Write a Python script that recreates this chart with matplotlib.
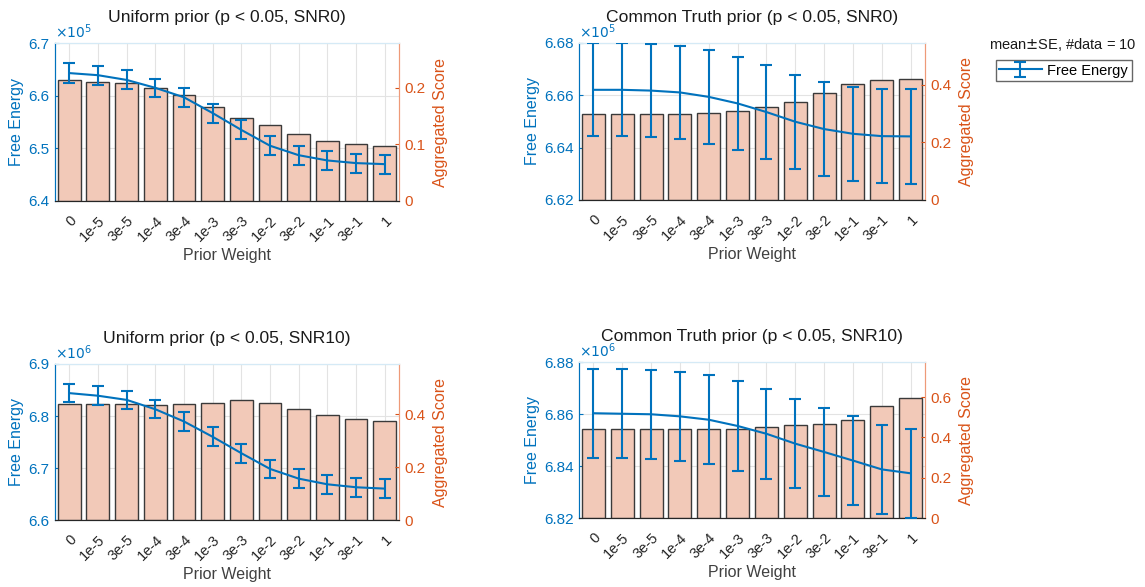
import numpy as np
import matplotlib
matplotlib.use('Agg')
from matplotlib import pyplot as plt

plt.rcParams['font.family'] = ['Liberation Sans', 'DejaVu Sans']

# x categories
weights = ['0', '1e-5', '3e-5', '1e-4', '3e-4', '1e-3', '3e-3', '1e-2', '3e-2', '1e-1', '3e-1', '1']

# Uniform prior, SNR0  (free energy in units of 1e5)
fe_uni0 = [6.643, 6.639, 6.630, 6.615, 6.597, 6.567, 6.535, 6.505, 6.487, 6.477, 6.472, 6.470]
se_uni0 = [0.019, 0.018, 0.018, 0.017, 0.018, 0.018, 0.018, 0.018, 0.018, 0.018, 0.018, 0.018]
sc_uni0 = [0.2135, 0.211, 0.208, 0.199, 0.187, 0.166, 0.1465, 0.1335, 0.118, 0.106, 0.100, 0.097]

# Common truth prior, SNR0 (units of 1e5)
fe_ct0 = [6.6621, 6.6621, 6.6618, 6.6611, 6.6594, 6.6569, 6.6536, 6.6499, 6.6471, 6.6453, 6.6444, 6.6443]
se_ct0 = [0.0178, 0.0178, 0.0178, 0.0178, 0.0179, 0.0179, 0.0179, 0.0180, 0.0180, 0.0180, 0.0180, 0.0180]
sc_ct0 = [0.2986, 0.2986, 0.2986, 0.2986, 0.302, 0.309, 0.3205, 0.340, 0.369, 0.4035, 0.417, 0.4196]

# Uniform prior, SNR10 (units of 1e6)
fe_uni10 = [6.844, 6.839, 6.831, 6.813, 6.7895, 6.760, 6.7285, 6.6983, 6.6796, 6.6687, 6.663, 6.6604]
se_uni10 = [0.0173, 0.018, 0.018, 0.0175, 0.018, 0.018, 0.018, 0.018, 0.018, 0.018, 0.018, 0.018]
sc_uni10 = [0.438, 0.438, 0.438, 0.4367, 0.438, 0.443, 0.4557, 0.4418, 0.419, 0.396, 0.382, 0.3734]

# Common truth prior, SNR10 (units of 1e6)
fe_ct10 = [6.8603, 6.8601, 6.8599, 6.8591, 6.8578, 6.8554, 6.8524, 6.8486, 6.8454, 6.8421, 6.8387, 6.8372]
se_ct10 = [0.0172, 0.0172, 0.0172, 0.0172, 0.0172, 0.0173, 0.0172, 0.0172, 0.0171, 0.0171, 0.0170, 0.0171]
sc_ct10 = [0.4413, 0.4413, 0.4413, 0.4413, 0.4413, 0.443, 0.4496, 0.463, 0.466, 0.4876, 0.5537, 0.5967]

blue = '#0072BD'
orange = '#D95319'
barface = '#F2C9B8'

panels = [
    # title, fe, se, score, exponent, left lims, left ticks, right lims, right ticks, position
    ('Uniform prior (p < 0.05, SNR0)', fe_uni0, se_uni0, sc_uni0, 5,
     (6.4, 6.7), [6.4, 6.5, 6.6, 6.7], (0, 0.279), [0, 0.1, 0.2], [0.048, 0.6576, 0.3005, 0.269]),
    ('Common Truth prior (p < 0.05, SNR0)', fe_ct0, se_ct0, sc_ct0, 5,
     (6.62, 6.68), [6.62, 6.64, 6.66, 6.68], (0, 0.544), [0, 0.2, 0.4], [0.5057, 0.6593, 0.3022, 0.2675]),
    ('Uniform prior (p < 0.05, SNR10)', fe_uni10, se_uni10, sc_uni10, 6,
     (6.6, 6.9), [6.6, 6.7, 6.8, 6.9], (0, 0.591), [0, 0.2, 0.4], [0.048, 0.1141, 0.3005, 0.2658]),
    ('Common Truth prior (p < 0.05, SNR10)', fe_ct10, se_ct10, sc_ct10, 6,
     (6.82, 6.88), [6.82, 6.84, 6.86, 6.88], (0, 0.7736), [0, 0.2, 0.4, 0.6], [0.5057, 0.1175, 0.3022, 0.2658]),
]

fig = plt.figure(figsize=(11.45, 5.87), dpi=100)
x = np.arange(len(weights))

for title, fe, se, sc, ex, ylim_l, yt_l, ylim_r, yt_r, pos in panels:
    ax = fig.add_axes(pos)
    ax_r = ax.twinx()
    ax_l = ax.twinx()  # line layer on top, same scale as ax

    # base axes: grid + left ticks
    ax.set_xlim(-0.5, len(weights) - 0.5)
    ax.set_ylim(*ylim_l)
    ax.set_yticks(yt_l)
    ax.set_yticklabels(['%g' % t for t in yt_l])
    ax.set_xticks(x)
    ax.set_xticklabels(weights, rotation=45, ha='right', rotation_mode='anchor')
    ax.grid(True, color='#e3e3e3', linewidth=0.8)
    ax.tick_params(axis='y', colors=blue, direction='in', labelsize=11, length=3, pad=4)
    ax.tick_params(axis='x', colors='#262626', direction='in', labelsize=10.5, length=3, pad=9)
    ax.set_ylabel('Free Energy', color=blue, fontsize=11.5, labelpad=3)
    ax.set_xlabel('Prior Weight', color='#404040', fontsize=11.5, labelpad=3)
    ax.set_title(title, fontsize=12.6, color='#1a1a1a', pad=15)
    ax.text(0.0, 1.012, r'$\times10^{%d}$' % ex, transform=ax.transAxes,
            color=blue, fontsize=10, ha='left', va='bottom')

    # bars on right scale
    ax_r.bar(x, sc, width=0.8, color=barface, edgecolor='#3a3a3a', linewidth=1.0)
    ax_r.set_ylim(*ylim_r)
    ax_r.set_yticks(yt_r)
    ax_r.set_yticklabels(['%g' % t for t in yt_r])
    ax_r.tick_params(axis='y', colors=orange, direction='in', labelsize=11, length=3)
    ax_r.set_ylabel('Aggregated Score', color=orange, fontsize=11.5, labelpad=6)

    # line with error bars on left scale
    eb = ax_l.errorbar(x, fe, yerr=se, color=blue, linewidth=1.5, elinewidth=1.5,
                       capsize=4, capthick=1.5, label='Free Energy')
    ax_l.set_ylim(*ylim_l)
    ax_l.axis('off')

    for a in (ax, ax_r):
        a.spines['left'].set_color(blue)
        a.spines['right'].set_color('#EE9A78')
        a.spines['top'].set_color('#d5eaf6')
        a.spines['bottom'].set_color('#262626')

fig.text(0.928, 0.925, 'mean$\\pm$SE, #data = 10', fontsize=10.5, ha='center', va='center',
         color='#1a1a1a')
fig.legend(handles=[eb], labels=['Free Energy'], loc='upper left',
           bbox_to_anchor=(0.867, 0.903), fontsize=10.5, frameon=True, fancybox=False,
           edgecolor='#404040', handlelength=2.9, borderpad=0.25, handletextpad=0.4,
           borderaxespad=0.2)

fig.savefig('out.png', dpi=100)
